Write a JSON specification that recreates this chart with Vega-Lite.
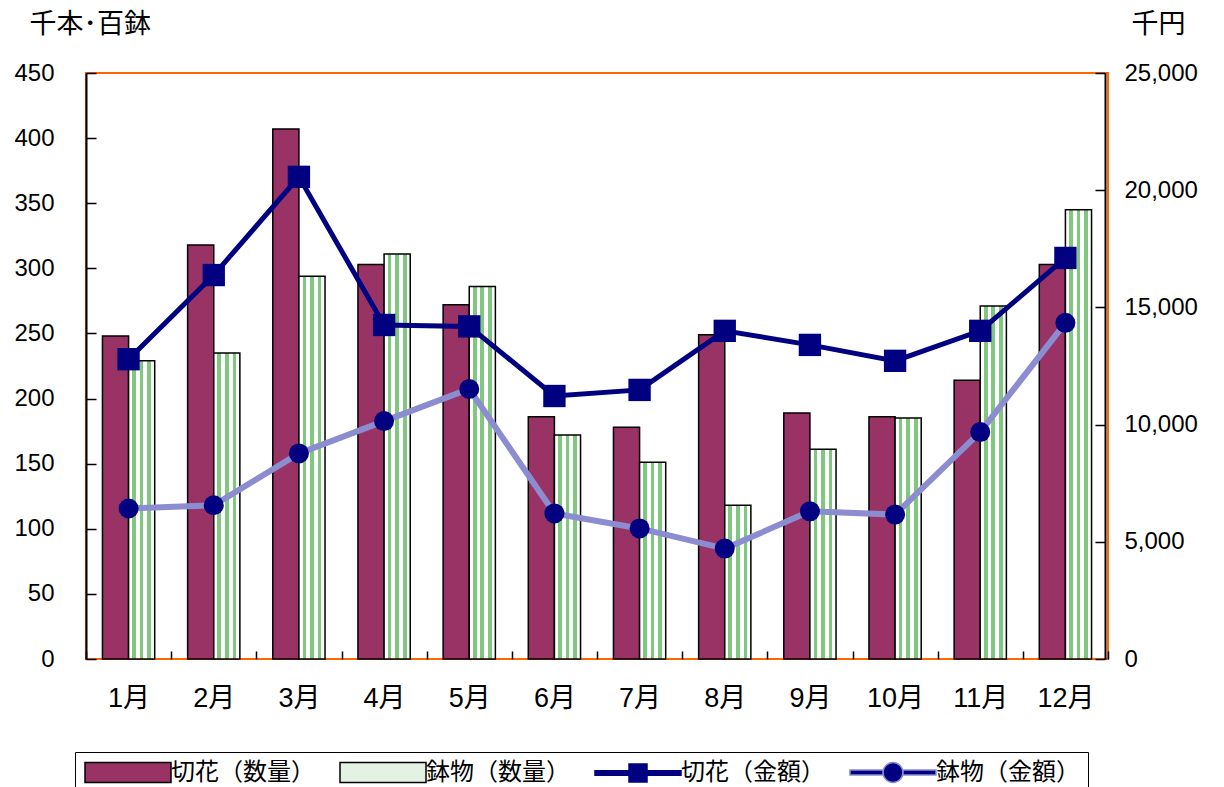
{
  "$schema": "https://vega.github.io/schema/vega-lite/v6.json",
  "width": 1022,
  "height": 586,
  "autosize": {"type": "none"},
  "padding": {"left": 86, "top": 73, "right": 116, "bottom": 128},
  "background": "white",
  "config": {
    "view": {"stroke": "#FF6600", "strokeWidth": 2},
    "axis": {
      "grid": false,
      "labelFont": "Liberation Sans, Noto Sans CJK JP",
      "labelFontSize": 24,
      "labelColor": "black",
      "titleFont": "Noto Sans CJK JP",
      "titleFontSize": 27,
      "titleFontWeight": "normal",
      "titleColor": "black",
      "domainColor": "black",
      "tickColor": "black",
      "domainWidth": 2,
      "tickWidth": 1.5
    },
    "legend": {
      "orient": "none", "legendX": -11, "legendY": 679,
      "direction": "horizontal", "columns": 4,
      "strokeColor": "black", "padding": 8, "columnPadding": 22,
      "symbolSize": 400, "labelOffset": 64, "labelLimit": 0,
      "labelFont": "Noto Sans CJK JP", "labelFontSize": 24, "labelColor": "black",
      "symbolOpacity": 1, "symbolStrokeWidth": 1.5
    }
  },
  "data": {
    "values": [
      {"月": "1月", "切花（数量）": 248, "鉢物（数量）": 229, "切花（金額）": 12790, "鉢物（金額）": 6420},
      {"月": "2月", "切花（数量）": 318, "鉢物（数量）": 235, "切花（金額）": 16380, "鉢物（金額）": 6560},
      {"月": "3月", "切花（数量）": 407, "鉢物（数量）": 294, "切花（金額）": 20570, "鉢物（金額）": 8770},
      {"月": "4月", "切花（数量）": 303, "鉢物（数量）": 311, "切花（金額）": 14250, "鉢物（金額）": 10150},
      {"月": "5月", "切花（数量）": 272, "鉢物（数量）": 286, "切花（金額）": 14190, "鉢物（金額）": 11520},
      {"月": "6月", "切花（数量）": 186, "鉢物（数量）": 172, "切花（金額）": 11220, "鉢物（金額）": 6210},
      {"月": "7月", "切花（数量）": 178, "鉢物（数量）": 151, "切花（金額）": 11480, "鉢物（金額）": 5570},
      {"月": "8月", "切花（数量）": 249, "鉢物（数量）": 118, "切花（金額）": 14000, "鉢物（金額）": 4710},
      {"月": "9月", "切花（数量）": 189, "鉢物（数量）": 161, "切花（金額）": 13400, "鉢物（金額）": 6300},
      {"月": "10月", "切花（数量）": 186, "鉢物（数量）": 185, "切花（金額）": 12720, "鉢物（金額）": 6160},
      {"月": "11月", "切花（数量）": 214, "鉢物（数量）": 271, "切花（金額）": 14000, "鉢物（金額）": 9680},
      {"月": "12月", "切花（数量）": 303, "鉢物（数量）": 345, "切花（金額）": 17110, "鉢物（金額）": 14340}
    ]
  },
  "layer": [
    {
      "transform": [{"fold": ["切花（数量）", "鉢物（数量）"], "as": ["系列", "数量"]}],
      "mark": {"type": "bar", "stroke": "black", "strokeWidth": 1.5, "opacity": 1},
      "encoding": {
        "x": {
          "field": "月", "type": "ordinal",
          "sort": ["1月","2月","3月","4月","5月","6月","7月","8月","9月","10月","11月","12月"],
          "scale": {"paddingInner": 0, "paddingOuter": 0},
          "axis": {"title": null, "domain": false, "tickBand": "extent", "tickSize": -8, "labelAngle": 0, "labelPadding": 34, "labelFontSize": 27, "labelFont": "Liberation Sans, Noto Sans CJK JP"}
        },
        "xOffset": {"field": "系列", "type": "nominal", "scale": {"paddingInner": 0, "paddingOuter": 0.63}},
        "y": {
          "field": "数量", "type": "quantitative",
          "scale": {"domain": [0, 450]},
          "axis": {
            "orient": "left", "values": [0,50,100,150,200,250,300,350,400,450],
            "tickSize": -10, "labelPadding": 42,
            "title": "千本･百鉢", "titleAngle": 0, "titleX": -57, "titleY": -49,
            "titleAlign": "left", "titleBaseline": "middle"
          }
        },
        "fill": {
          "field": "系列", "type": "nominal",
          "scale": {"domain": ["切花（数量）", "鉢物（数量）"], "range": ["#993366", "#ffffff"]},
          "legend": null,
          "condition": {
            "test": "datum['系列'] === '鉢物（数量）'",
            "value": {
              "gradient": "linear", "x1": 0, "y1": 0, "x2": 1, "y2": 0,
              "stops": [
                {"offset": 0, "color": "#ffffff"},
                {"offset": 0.14, "color": "#ffffff"},
                {"offset": 0.14, "color": "#80c880"},
                {"offset": 0.28, "color": "#80c880"},
                {"offset": 0.28, "color": "#ffffff"},
                {"offset": 0.43, "color": "#ffffff"},
                {"offset": 0.43, "color": "#80c880"},
                {"offset": 0.57, "color": "#80c880"},
                {"offset": 0.57, "color": "#ffffff"},
                {"offset": 0.72, "color": "#ffffff"},
                {"offset": 0.72, "color": "#80c880"},
                {"offset": 0.86, "color": "#80c880"},
                {"offset": 0.86, "color": "#ffffff"},
                {"offset": 1, "color": "#ffffff"}
              ]
            }
          }
        }
      }
    },
    {
      "encoding": {
        "x": {
          "field": "月", "type": "ordinal",
          "sort": ["1月","2月","3月","4月","5月","6月","7月","8月","9月","10月","11月","12月"]
        }
      },
      "layer": [
        {
          "mark": {"type": "line", "color": "#8C8CD0", "strokeWidth": 6},
          "encoding": {
            "y": {"field": "鉢物（金額）", "type": "quantitative", "scale": {"domain": [0, 25000]},
              "axis": {"orient": "right", "values": [0,5000,10000,15000,20000,25000], "labelExpr": "format(datum.value, ',')", "tickSize": -10, "labelPadding": 29, "offset": -3,
                "title": "千円", "titleAngle": 0, "titleX": 26, "titleY": -49, "titleAlign": "left", "titleBaseline": "middle"}}
          }
        },
        {
          "mark": {"type": "point", "shape": "circle", "filled": true, "size": 400, "color": "#000080", "opacity": 1},
          "encoding": {
            "y": {"field": "鉢物（金額）", "type": "quantitative", "scale": {"domain": [0, 25000]},
              "axis": {"orient": "right", "values": [0,5000,10000,15000,20000,25000], "labelExpr": "format(datum.value, ',')", "tickSize": -10, "labelPadding": 29, "offset": -3,
                "title": "千円", "titleAngle": 0, "titleX": 26, "titleY": -49, "titleAlign": "left", "titleBaseline": "middle"}}
          }
        },
        {
          "mark": {"type": "line", "color": "#000080", "strokeWidth": 5},
          "encoding": {
            "y": {"field": "切花（金額）", "type": "quantitative", "scale": {"domain": [0, 25000]},
              "axis": {"orient": "right", "values": [0,5000,10000,15000,20000,25000], "labelExpr": "format(datum.value, ',')", "tickSize": -10, "labelPadding": 29, "offset": -3,
                "title": "千円", "titleAngle": 0, "titleX": 26, "titleY": -49, "titleAlign": "left", "titleBaseline": "middle"}}
          }
        },
        {
          "mark": {"type": "point", "shape": "square", "filled": true, "size": 500, "color": "#000080", "opacity": 1},
          "encoding": {
            "y": {"field": "切花（金額）", "type": "quantitative", "scale": {"domain": [0, 25000]},
              "axis": {"orient": "right", "values": [0,5000,10000,15000,20000,25000], "labelExpr": "format(datum.value, ',')", "tickSize": -10, "labelPadding": 29, "offset": -3,
                "title": "千円", "titleAngle": 0, "titleX": 26, "titleY": -49, "titleAlign": "left", "titleBaseline": "middle"}}
          }
        }
      ]
    },
    {
      "transform": [{"filter": "false"}],
      "mark": {"type": "point", "filled": true, "opacity": 1, "strokeWidth": 1.5},
      "encoding": {
        "color": {
          "field": "系列", "type": "nominal",
          "scale": {"domain": ["切花（数量）", "鉢物（数量）", "切花（金額）", "鉢物（金額）"], "range": ["#993366", "#e4f2e4", "#000080", "#000080"]},
          "legend": {"title": null}
        },
        "shape": {
          "field": "系列", "type": "nominal",
          "scale": {"domain": ["切花（数量）", "鉢物（数量）", "切花（金額）", "鉢物（金額）"], "range": [
            "M-1,-1H7.6V1H-1Z",
            "M-1,-1H7.6V1H-1Z",
            "M-1,-0.22H7.6V0.22H-1Z M2.4,-0.9H4.2V0.9H2.4Z",
            "M-1,-0.25H2.3V0.25H-1Z M4.3,-0.25H7.6V0.25H4.3Z M4.3,0A1,1,0,1,1,2.3,0A1,1,0,1,1,4.3,0Z"
          ]},
          "legend": {"title": null}
        },
        "stroke": {
          "field": "系列", "type": "nominal",
          "scale": {"domain": ["切花（数量）", "鉢物（数量）", "切花（金額）", "鉢物（金額）"], "range": ["#000000", "#000000", "#000080", "#8C8CD0"]},
          "legend": {"title": null}
        }
      }
    }
  ],
  "resolve": {"scale": {"y": "independent"}}
}
